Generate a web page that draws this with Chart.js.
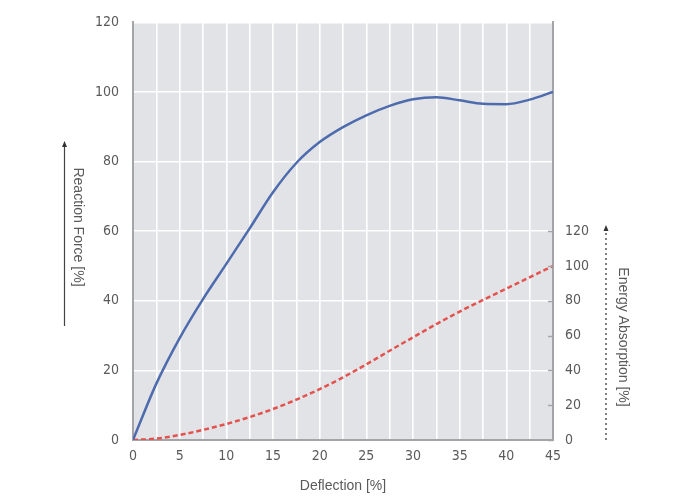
<!DOCTYPE html>
<html>
<head>
<meta charset="utf-8">
<script src="https://cdn.jsdelivr.net/npm/chart.js@4/dist/chart.umd.min.js"></script>
<style>
  html,body{margin:0;padding:0;background:#fff;}
  #wrap{width:692px;height:503px;position:relative;}
</style>
</head>
<body>
<div id="wrap"><canvas id="c" width="692" height="503"></canvas></div>
<script>
const deflection = [0,2.5,5,7.5,10,12.5,15,17.5,20,22.5,25,27.5,30,32.5,35,37.5,40,42.5,45];
const reactionForce = [0,16.2,29.3,40.5,50.6,60.8,71.2,79.6,85.6,89.9,93.3,96,97.9,98.5,97.6,96.6,96.5,97.8,100];
const energyAbsorption = [0,0.8,2.9,5.8,9.2,13.2,17.8,23.2,29.2,36,43.5,51.3,59,66.6,73.8,80.5,87,93.5,100];
const xTicks = [0,5,10,15,20,25,30,35,40,45];
const leftTicks = [0,20,40,60,80,100,120];
const rightTicks = [0,20,40,60,80,100,120];

const labels = {
  x: 'Deflection [%]',
  left: 'Reaction Force [%]',
  right: 'Energy Absorption [%]'
};

const TICKFONT = "'Liberation Sans Narrow','DejaVu Sans Condensed',sans-serif";
const TITLEFONT = "'Liberation Sans','Arial',sans-serif";
const TXT = '#5a5a5a';
const AXIS = '#a3a5a9';

const decor = {
  id: 'decor',
  beforeDraw(chart) {
    const {ctx, chartArea: a} = chart;
    ctx.save();
    ctx.fillStyle = '#e2e3e7';
    ctx.fillRect(a.left, a.top, a.right - a.left, a.bottom - a.top);
    ctx.restore();
  },
  afterDraw(chart) {
    const {ctx, chartArea: a} = chart;
    const y2 = chart.scales.y2;
    ctx.save();
    ctx.strokeStyle = AXIS;
    ctx.lineWidth = 1.5;
    rightTicks.forEach(v => {
      const py = Math.round(y2.getPixelForValue(v)) + 0.5;
      ctx.beginPath();
      ctx.moveTo(a.right - 5, py);
      ctx.lineTo(a.right, py);
      ctx.stroke();
    });
    ctx.fillStyle = TXT;
    ctx.font = '14px ' + TITLEFONT;
    ctx.textAlign = 'center';
    ctx.textBaseline = 'middle';
    ctx.save();
    ctx.translate(78, 227);
    ctx.rotate(Math.PI / 2);
    ctx.fillText(labels.left, 0, 0);
    ctx.restore();
    ctx.strokeStyle = '#444';
    ctx.lineWidth = 1.2;
    ctx.beginPath();
    ctx.moveTo(64.5, 326);
    ctx.lineTo(64.5, 145);
    ctx.stroke();
    ctx.fillStyle = '#333';
    ctx.beginPath();
    ctx.moveTo(64.5, 141);
    ctx.lineTo(62, 147);
    ctx.lineTo(67, 147);
    ctx.closePath();
    ctx.fill();
    ctx.fillStyle = TXT;
    ctx.save();
    ctx.translate(623, 337);
    ctx.rotate(Math.PI / 2);
    ctx.fillText(labels.right, 0, 0);
    ctx.restore();
    ctx.strokeStyle = '#555';
    ctx.lineWidth = 1.5;
    ctx.setLineDash([2, 3]);
    ctx.beginPath();
    ctx.moveTo(606, 440);
    ctx.lineTo(606, 231);
    ctx.stroke();
    ctx.setLineDash([]);
    ctx.fillStyle = '#333';
    ctx.beginPath();
    ctx.moveTo(606, 225);
    ctx.lineTo(603.5, 231);
    ctx.lineTo(608.5, 231);
    ctx.closePath();
    ctx.fill();
    ctx.fillStyle = TXT;
    ctx.fillText(labels.x, 343, 486);
    ctx.restore();
  }
};

new Chart(document.getElementById('c'), {
  type: 'line',
  data: {
    datasets: [
      {
        label: labels.left,
        data: deflection.map((x, i) => ({x, y: reactionForce[i]})),
        yAxisID: 'y',
        borderColor: '#4e6cad',
        borderWidth: 2.5,
        pointRadius: 0,
        cubicInterpolationMode: 'monotone',
        fill: false
      },
      {
        label: labels.right,
        data: deflection.map((x, i) => ({x, y: energyAbsorption[i]})),
        yAxisID: 'y2',
        borderColor: '#e4524f',
        borderWidth: 2.5,
        borderDash: [5, 3],
        pointRadius: 0,
        cubicInterpolationMode: 'monotone',
        fill: false
      }
    ]
  },
  options: {
    responsive: false,
    animation: false,
    layout: { padding: { top: 20, left: 0, right: 0, bottom: 0 } },
    plugins: { legend: { display: false }, tooltip: { enabled: false } },
    scales: {
      x: {
        type: 'linear',
        min: 0, max: 45,
        afterFit(s) { s.height = 63; },
        afterBuildTicks(s) {
          const t = [];
          for (let v = 0; v <= 45; v += 2.5) t.push({value: v});
          s.ticks = t;
        },
        ticks: {
          autoSkip: false, maxRotation: 0, padding: 8,
          color: TXT, font: { family: TICKFONT, size: 14 },
          callback: v => xTicks.includes(v) ? String(v) : ''
        },
        grid: { color: '#ffffff', lineWidth: 1.6, drawTicks: false },
        border: { display: true, color: AXIS, width: 2 }
      },
      y: {
        position: 'left',
        min: 0, max: 120,
        afterFit(s) { s.width = 133; },
        afterBuildTicks(s) { s.ticks = leftTicks.map(v => ({value: v})); },
        ticks: {
          padding: 14, color: TXT, font: { family: TICKFONT, size: 14 }
        },
        grid: { color: '#ffffff', lineWidth: 1.6, drawTicks: false },
        border: { display: true, color: AXIS, width: 2 }
      },
      y2: {
        position: 'right',
        min: 0, max: 240,
        afterFit(s) { s.width = 139; },
        afterBuildTicks(s) { s.ticks = rightTicks.map(v => ({value: v})); },
        ticks: {
          padding: 12, color: TXT, font: { family: TICKFONT, size: 14 }
        },
        grid: { drawOnChartArea: false, drawTicks: false },
        border: { display: true, color: AXIS, width: 2 }
      }
    }
  },
  plugins: [decor]
});
</script>
</body>
</html>
